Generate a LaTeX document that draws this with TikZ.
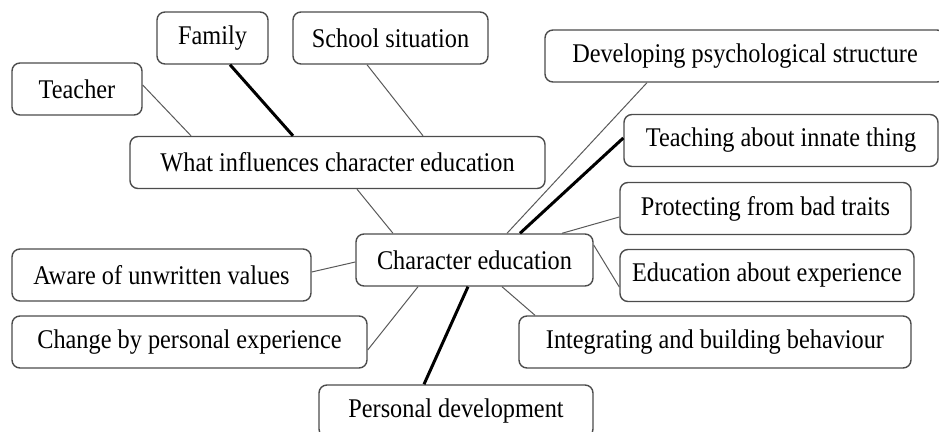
\documentclass[tikz,border=0pt]{standalone}
\usepackage{fontspec}
\setmainfont{Liberation Serif}[FakeStretch=0.9]

\begin{document}
\begin{tikzpicture}[x=0.5pt,y=-0.5pt,
	box/.style={draw=black!70, line width=0.7pt, rounded corners=4pt,
		minimum height=26pt, inner sep=0pt, font=\fontsize{13.5}{15}\selectfont},
	link/.style={draw=black!65, line width=0.5pt},
	strong/.style={draw=black, line width=1.5pt}]
	\useasboundingbox (0,0) rectangle (939,432);

	\node[box, minimum width=65pt] (teacher) at (77,89) {Teacher};
	\node[box, minimum width=55.5pt] (family) at (212.5,38) {Family};
	\node[box, minimum width=97.5pt] (school) at (390.5,38) {School situation};
	\node[box, minimum width=207.5pt] (what) at (337.5,162.5) {What influences character education};
	\node[box, minimum width=200pt] (develop) at (745,56) {Developing psychological structure};
	\node[box, minimum width=157pt] (innate) at (781,140.5) {Teaching about innate thing};
	\node[box, minimum width=145.5pt] (protect) at (765.5,208.5) {Protecting from bad traits};
	\node[box, minimum width=118.5pt] (char) at (474.5,260) {Character education};
	\node[box, minimum width=147pt] (exper) at (767,275.5) {Education about experience};
	\node[box, minimum width=149.5pt] (aware) at (161.5,275) {Aware of unwritten values};
	\node[box, minimum width=177.5pt] (change) at (189.5,342) {Change by personal experience};
	\node[box, minimum width=196pt] (integ) at (715,342) {Integrating and building behaviour};
	\node[box, minimum width=137pt] (personal) at (456,411) {Personal development};

	\path[link]
		([yshift=2pt]teacher.east) edge ([xshift=-73.25pt]what.north)
		([xshift=-11.75pt]school.south) edge ([xshift=42.75pt]what.north)
		([xshift=9.75pt]what.south) edge ([xshift=-40.75pt]char.north)
		([xshift=-49pt]develop.south) edge ([xshift=16.25pt]char.north)
		([yshift=-4.25pt]protect.west) edge ([xshift=43.75pt]char.north)
		([yshift=-5.75pt]exper.west) edge ([yshift=7.5pt]char.east)
		([yshift=1.5pt]aware.east) edge ([yshift=-1pt]char.west)
		([yshift=-4pt]change.east) edge ([xshift=-28.25pt]char.south)
		([xshift=-90pt]integ.north) edge ([xshift=13.75pt]char.south)
	;
	\path[strong]
		([xshift=8.75pt]family.south) edge ([xshift=-22.25pt]what.north)
		([yshift=1.25pt]innate.west) edge ([xshift=22.75pt]char.north)
		([xshift=-16pt]personal.north) edge ([xshift=-3.25pt]char.south)
	;
\end{tikzpicture}
\end{document}
